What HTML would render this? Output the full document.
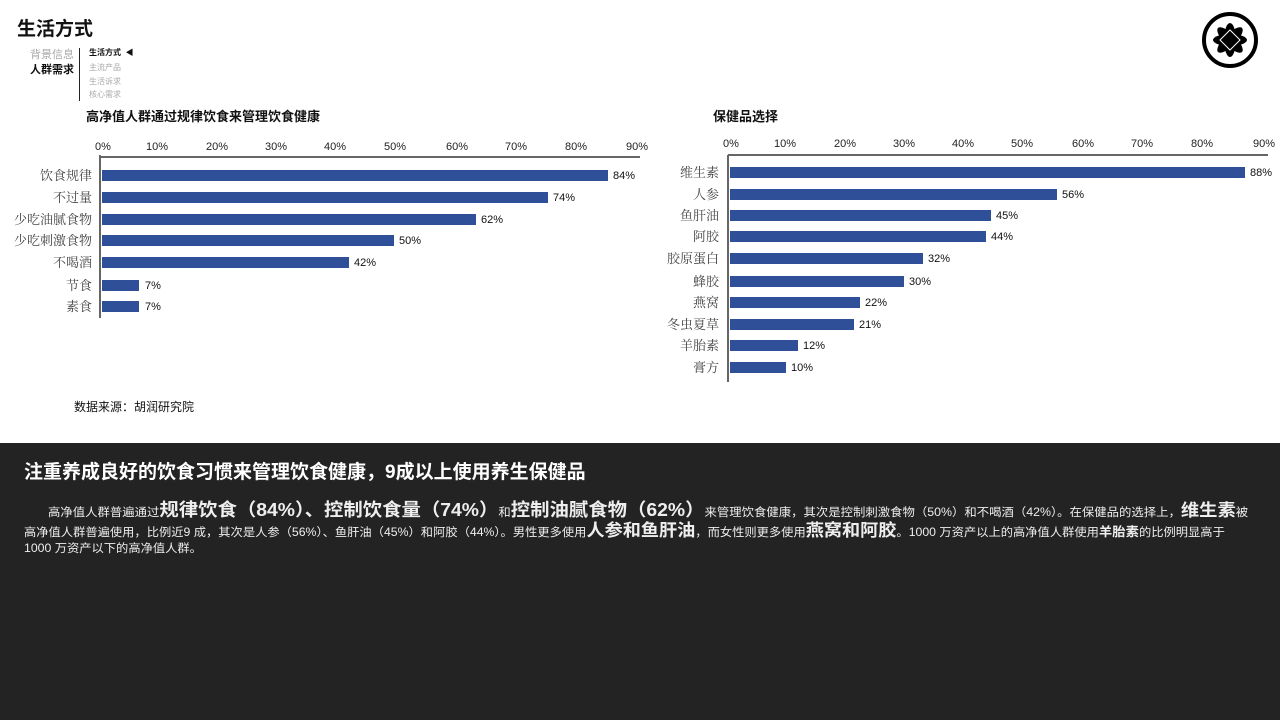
<!DOCTYPE html>
<html><head><meta charset="utf-8"><style>
body{margin:0;width:1280px;height:720px;overflow:hidden;background:#fff;font-family:"Liberation Sans","Noto Sans CJK SC",sans-serif;position:relative}
.band{position:absolute;left:0;top:443px;width:1280px;height:277px;background:#232323;color:#fff}
.t{position:absolute;white-space:nowrap}
.ln{position:absolute;white-space:nowrap;font-size:12px;color:#eee;left:24px;transform-origin:0 50%}
</style></head><body>
<div class="t" style="left:17px;top:14px;font-size:19px;font-weight:bold;color:#111">生活方式</div>
<div class="t" style="left:30px;top:46px;font-size:11px;color:#aaa">背景信息</div>
<div class="t" style="left:30px;top:61px;font-size:11px;color:#111;font-weight:bold">人群需求</div>
<div style="position:absolute;left:79px;top:48px;width:1px;height:53px;background:#222"></div>
<div class="t" style="left:89px;top:47px;font-size:8px;font-weight:bold;color:#111">生活方式 &nbsp;◀</div>
<div class="t" style="left:89px;top:62px;font-size:8px;color:#aaa">主流产品</div>
<div class="t" style="left:89px;top:76px;font-size:8px;color:#aaa">生活诉求</div>
<div class="t" style="left:89px;top:89px;font-size:8px;color:#aaa">核心需求</div>
<div class="t" style="left:86px;top:106px;font-size:13px;font-weight:bold;color:#111">高净值人群通过规律饮食来管理饮食健康</div>
<div class="t" style="left:713px;top:106px;font-size:13px;font-weight:bold;color:#111">保健品选择</div>
<div class="t" style="left:74px;top:398px;font-size:12px;color:#111">数据来源：胡润研究院</div>
<svg width="1280" height="443" style="position:absolute;left:0;top:0">
<g>
<circle cx="1230" cy="40" r="26" fill="none" stroke="#000" stroke-width="4"/>
<g transform="translate(1230,40)">
<ellipse rx="6" ry="17" fill="#000" transform="rotate(0)"/>
<ellipse rx="6" ry="17" fill="#000" transform="rotate(45)"/>
<ellipse rx="6" ry="17" fill="#000" transform="rotate(90)"/>
<ellipse rx="6" ry="17" fill="#000" transform="rotate(135)"/>
<rect x="-8" y="-8" width="16" height="16" fill="#000" transform="rotate(45)"/>
<path d="M-10,0 L0,-10 L10,0 L0,10Z" fill="none" stroke="#fff" stroke-width="1"/>
</g>
</g>
<g font-size="11" fill="#222" text-anchor="middle">
<text x="103" y="150">0%</text><text x="157" y="150">10%</text><text x="217" y="150">20%</text><text x="276" y="150">30%</text><text x="335" y="150">40%</text><text x="395" y="150">50%</text><text x="457" y="150">60%</text><text x="516" y="150">70%</text><text x="576" y="150">80%</text><text x="637" y="150">90%</text>
<text x="731" y="147">0%</text><text x="785" y="147">10%</text><text x="845" y="147">20%</text><text x="904" y="147">30%</text><text x="963" y="147">40%</text><text x="1022" y="147">50%</text><text x="1083" y="147">60%</text><text x="1142" y="147">70%</text><text x="1202" y="147">80%</text><text x="1264" y="147">90%</text>
</g>
<g stroke="#666" stroke-width="2">
<line x1="100" y1="157" x2="640" y2="157"/><line x1="100" y1="155" x2="100" y2="318"/>
<line x1="728" y1="155" x2="1268" y2="155"/><line x1="728" y1="155" x2="728" y2="382"/>
</g>
<g fill="#2f4f98">
<rect x="102" y="170" width="506" height="11"/><rect x="102" y="192" width="446" height="11"/><rect x="102" y="214" width="374" height="11"/><rect x="102" y="235" width="292" height="11"/><rect x="102" y="257" width="247" height="11"/><rect x="102" y="280" width="37" height="11"/><rect x="102" y="301" width="37" height="11"/>
<rect x="730" y="167" width="515" height="11"/><rect x="730" y="189" width="327" height="11"/><rect x="730" y="210" width="261" height="11"/><rect x="730" y="231" width="256" height="11"/><rect x="730" y="253" width="193" height="11"/><rect x="730" y="276" width="174" height="11"/><rect x="730" y="297" width="130" height="11"/><rect x="730" y="319" width="124" height="11"/><rect x="730" y="340" width="68" height="11"/><rect x="730" y="362" width="56" height="11"/>
</g>
<g font-size="11" fill="#111">
<text x="613" y="179">84%</text><text x="553" y="201">74%</text><text x="481" y="223">62%</text><text x="399" y="244">50%</text><text x="354" y="266">42%</text><text x="145" y="289">7%</text><text x="145" y="310">7%</text>
<text x="1250" y="176">88%</text><text x="1062" y="198">56%</text><text x="996" y="219">45%</text><text x="991" y="240">44%</text><text x="928" y="262">32%</text><text x="909" y="285">30%</text><text x="865" y="306">22%</text><text x="859" y="328">21%</text><text x="803" y="349">12%</text><text x="791" y="371">10%</text>
</g>
<g font-size="13" fill="#444" text-anchor="end" font-family="'Noto Serif CJK SC',serif">
<text x="92" y="180">饮食规律</text><text x="92" y="202">不过量</text><text x="92" y="224">少吃油腻食物</text><text x="92" y="245">少吃刺激食物</text><text x="92" y="267">不喝酒</text><text x="92" y="290">节食</text><text x="92" y="311">素食</text>
<text x="719" y="177">维生素</text><text x="719" y="199">人参</text><text x="719" y="220">鱼肝油</text><text x="719" y="241">阿胶</text><text x="719" y="263">胶原蛋白</text><text x="719" y="286">蜂胶</text><text x="719" y="307">燕窝</text><text x="719" y="329">冬虫夏草</text><text x="719" y="350">羊胎素</text><text x="719" y="372">膏方</text>
</g>
</svg>
<div class="band">
<div class="t" style="left:24px;top:14px;font-size:19px;font-weight:bold">注重养成良好的饮食习惯来管理饮食健康，9成以上使用养生保健品</div>
<div class="ln" style="left:48px;top:53px;font-size:11.5px;transform:scaleX(1.076)">高净值人群普遍通过<b style="font-size:18px">规律饮食（84%）、控制饮食量（74%）</b>和<b style="font-size:18px">控制油腻食物（62%）</b>来管理饮食健康，其次是控制刺激食物（50%）和不喝酒（42%）。在保健品的选择上，<b style="font-size:17px">维生素</b>被</div>
<div class="ln" style="top:73px;font-size:11.5px;transform:scaleX(1.067)">高净值人群普遍使用，比例近9 成，其次是人参（56%）、鱼肝油（45%）和阿胶（44%）。男性更多使用<b style="font-size:17px">人参和鱼肝油</b>，而女性则更多使用<b style="font-size:17px">燕窝和阿胶</b>。1000 万资产以上的高净值人群使用<b style="font-size:12.5px">羊胎素</b>的比例明显高于</div>
<div class="ln" style="top:97px;font-size:11.5px;transform:scaleX(1.067)">1000 万资产以下的高净值人群。</div>
</div>
</body></html>
